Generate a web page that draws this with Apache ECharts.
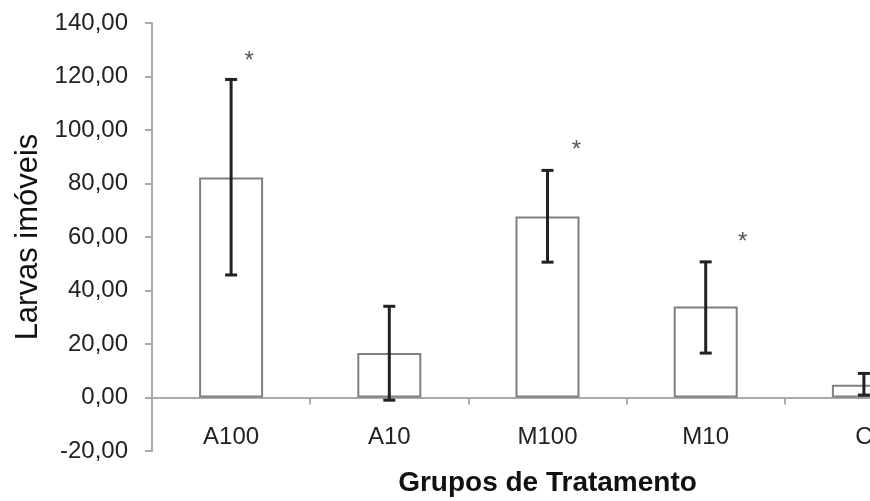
<!DOCTYPE html>
<html>
<head>
<meta charset="utf-8">
<script src="https://cdn.jsdelivr.net/npm/echarts@6/dist/echarts.min.js"></script>
<style>
	html, body { margin: 0; padding: 0; background: #fff; }
	#chart { width: 870px; height: 501px; }
</style>
</head>
<body>
<div id="chart"></div>
<script>
// dados
var categories = ['A100', 'A10', 'M100', 'M10', 'C'];
var means = [82.2, 16.6, 67.7, 34.0, 4.8];
var errLow = [45.8, -1.0, 50.6, 16.6, 0.9];
var errHigh = [118.9, 34.1, 84.9, 50.7, 9.0];
var starValues = [127.1, null, 93.9, 59.6, null];
var yTicks = [-20, 0, 20, 40, 60, 80, 100, 120, 140];

// deslocamento horizontal dos asteriscos (px)
var starShift = [18, 0, 29, 37, 0];

var chart = echarts.init(document.getElementById('chart'));

var fontFam = '"Liberation Sans", Arial, sans-serif';

var option = {
	animation: false,
	grid: {
		left: 152,
		width: 791,
		top: 23,
		height: 428,
		containLabel: false,
		outerBoundsMode: 'none'
	},
	xAxis: {
		type: 'category',
		data: categories,
		// eixo na linha do zero (-20 fica 53.5px abaixo)
		offset: -53.5,
		name: 'Grupos de Tratamento',
		nameLocation: 'middle',
		nameGap: 72,
		nameTextStyle: {
			fontFamily: fontFam,
			fontWeight: 'bold',
			fontSize: 28,
			color: '#111'
		},
		axisLine: {
			onZero: false,
			lineStyle: { color: '#aaa', width: 2 }
		},
		axisTick: {
			show: true,
			inside: false,
			length: 7,
			lineStyle: { color: '#aaa', width: 2 }
		},
		axisLabel: {
			margin: 28,
			fontFamily: fontFam,
			fontSize: 24,
			color: '#222'
		},
		splitLine: { show: false }
	},
	yAxis: {
		type: 'value',
		min: yTicks[0],
		max: yTicks[yTicks.length - 1],
		interval: 20,
		name: 'Larvas imóveis',
		nameLocation: 'middle',
		nameGap: 106,
		nameTextStyle: {
			fontFamily: fontFam,
			fontSize: 31,
			color: '#111'
		},
		axisLine: {
			show: true,
			lineStyle: { color: '#aaa', width: 2 }
		},
		axisTick: {
			show: true,
			length: 7,
			lineStyle: { color: '#aaa', width: 2 }
		},
		axisLabel: {
			margin: 24,
			fontFamily: fontFam,
			fontSize: 24,
			color: '#222',
			formatter: function (v) {
				return v.toFixed(2).replace('.', ',');
			}
		},
		splitLine: { show: false }
	},
	series: [
		{
			name: 'media',
			type: 'bar',
			data: means,
			barWidth: 64,
			itemStyle: {
				color: '#fff',
				borderColor: '#808080',
				borderWidth: 2
			}
		},
		{
			name: 'erro',
			type: 'custom',
			data: categories.map(function (c, i) {
				return [i, errLow[i], errHigh[i]];
			}),
			z: 10,
			renderItem: function (params, api) {
				var idx = api.value(0);
				var lo = api.coord([idx, api.value(1)]);
				var hi = api.coord([idx, api.value(2)]);
				var half = 6;
				var st = { stroke: '#222', lineWidth: 3 };
				return {
					type: 'group',
					children: [
						{ type: 'line', shape: { x1: hi[0], y1: hi[1], x2: lo[0], y2: lo[1] }, style: st },
						{ type: 'line', shape: { x1: hi[0] - half, y1: hi[1], x2: hi[0] + half, y2: hi[1] }, style: st },
						{ type: 'line', shape: { x1: lo[0] - half, y1: lo[1], x2: lo[0] + half, y2: lo[1] }, style: st }
					]
				};
			}
		},
		{
			name: 'asterisco',
			type: 'custom',
			data: categories.map(function (c, i) {
				return [i, starValues[i]];
			}).filter(function (d) { return d[1] !== null; }),
			z: 10,
			renderItem: function (params, api) {
				var idx = api.value(0);
				var p = api.coord([idx, api.value(1)]);
				return {
					type: 'text',
					x: p[0] + starShift[idx],
					y: p[1] + 4,
					style: {
						text: '*',
						fontFamily: fontFam,
						fontSize: 24,
						fill: '#555',
						align: 'center',
						verticalAlign: 'middle'
					}
				};
			}
		}
	]
};

chart.setOption(option);

window.onresize = function () {
	chart.resize();
};
</script>
</body>
</html>
